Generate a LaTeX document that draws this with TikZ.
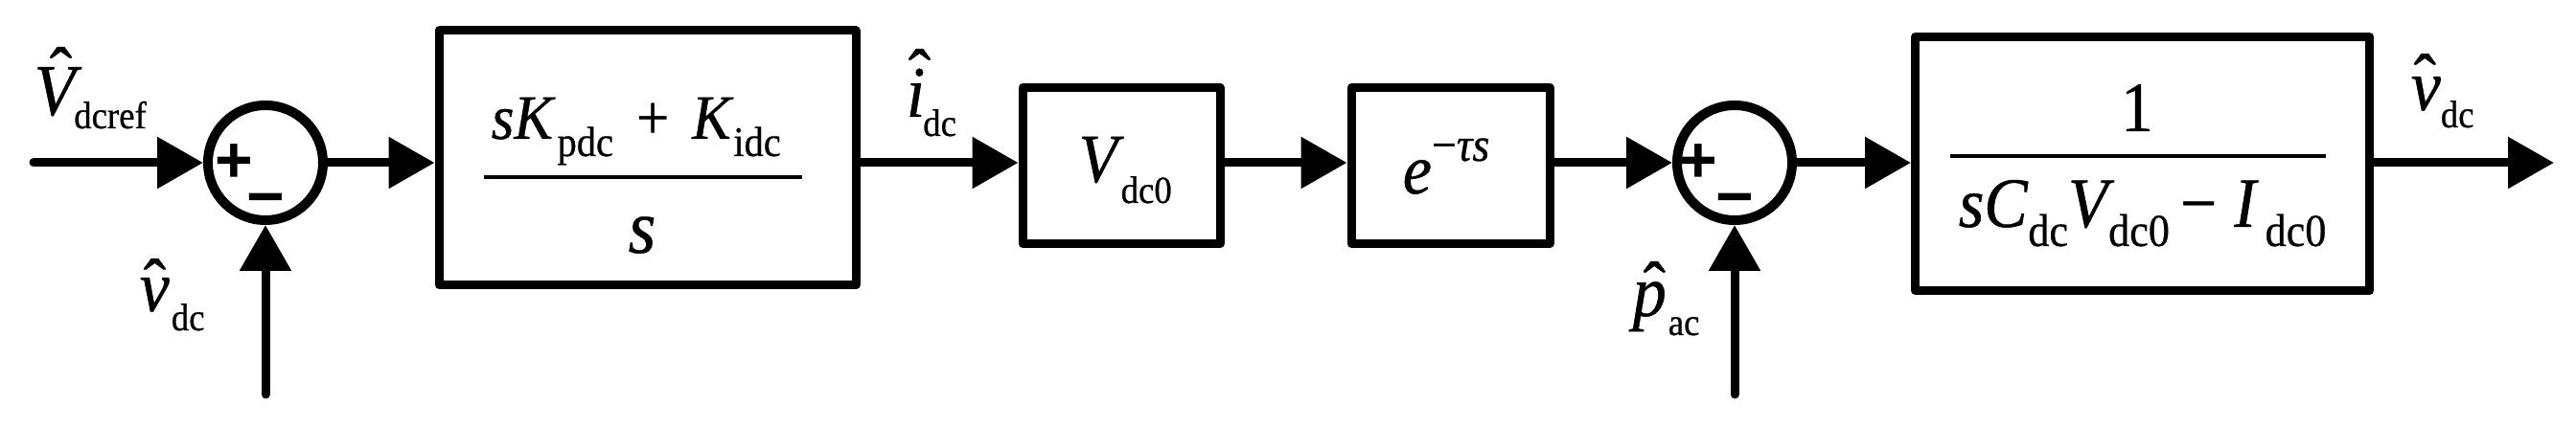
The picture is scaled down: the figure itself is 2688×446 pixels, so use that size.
\documentclass[tikz,border=0pt]{standalone}
\usepackage{fontspec}
\setmainfont{Liberation Serif}[FakeStretch=0.92,FakeBold=0.6]
\newfontfamily\signfont{Liberation Sans}
\usetikzlibrary{arrows.meta}
\newcommand\fs[1]{\fontsize{#1}{#1}\selectfont}
% \sbx{drop}{kern}{size}{text}
\newcommand\sbx[4]{\kern#2\raisebox{-#1}{\fs{#3}#4}}
% \hx{raise}{shift}{letter}
\newcommand\hx[3]{\makebox[0pt][l]{\hspace*{#2}\raisebox{#1}{ˆ}}\textit{#3}}
\begin{document}
\begin{tikzpicture}[x=0.25pt,y=-0.25pt,
  txt/.style={inner sep=0pt, font=\fs{19pt}},
  lbl/.style={txt, anchor=base west},
  blk/.style={draw, line width=2.25pt, line join=round, inner sep=0pt},
  sumc/.style={draw, circle, line width=2.5pt, minimum size=30pt, inner sep=0pt},
  sgn/.style={inner sep=0pt, anchor=base, font=\signfont\bfseries\fs{17pt}},
  flow/.style={line width=2.25pt, -{Triangle[length=12pt,width=13pt]}},
  bar/.style={line width=1.1pt}]
\useasboundingbox (0,0) rectangle (2688,446);
% summing junctions
\node[sumc] (sum1) at (277,170) {};
\node[sumc] (sum2) at (1810,170) {};
\node[sgn] (s1p) at (244,191) {+};
\node[sgn] (s1m) at (277,229) {−};
\node[sgn] (s2p) at (1772,191) {+};
\node[sgn] (s2m) at (1810,229) {−};
% blocks
\node[blk, minimum width=108.75pt, minimum height=66.5pt] (box1) at (675.5,165) {};
\node[blk, minimum width=51.5pt, minimum height=40.75pt] (box2) at (1170,173) {};
\node[blk, minimum width=51.75pt, minimum height=40.75pt] (box3) at (1513.5,173) {};
\node[blk, minimum width=118.5pt, minimum height=66.25pt] (box4) at (2235.5,171) {};
% block contents
\node[lbl, font=\fs{16.5pt}] (b1n) at (512,145) {\textit{sK}\sbx{4.5pt}{0.5pt}{11pt}{pdc}\hspace{6pt}+\hspace{6pt}\textit{K}\sbx{4.5pt}{0pt}{11pt}{idc}};
\draw[bar] (505,185) -- (837,185);
\node[txt, anchor=base, font=\fs{20pt}] (b1d) at (670,264) {\textit{s}};
\node[lbl, font=\fs{18pt}] (b2t) at (1125,190) {\textit{V}\sbx{5.5pt}{-0.75pt}{10pt}{dc0}};
\node[lbl, font=\fs{18.5pt}] (b3t) at (1463,202) {\textit{e}\raisebox{8.5pt}{\fs{12.5pt}−\textit{τs}}};
\node[txt, anchor=base, font=\fs{18.5pt}] (b4n) at (2230,137) {1};
\draw[bar] (2035,163) -- (2427,163);
\node[lbl, font=\fs{18.5pt}] (b4d) at (2043,237) {\textit{sC}\sbx{5pt}{0pt}{12pt}{dc}\textit{V}\sbx{5pt}{-1.5pt}{12pt}{dc0}\hspace{2.75pt}−\hspace{4.5pt}\textit{I}\sbx{5pt}{1.75pt}{12pt}{dc0}};
% signal labels
\node[lbl] (lref) at (35,120) {\hx{4.5pt}{4pt}{V}\sbx{3.5pt}{-2pt}{10pt}{dcref}};
\node[lbl] (lvdc) at (145,325) {\hx{0.5pt}{1pt}{v}\sbx{5pt}{0.5pt}{10pt}{dc}};
\node[lbl] (lidc) at (945,122) {\hx{4.5pt}{0.5pt}{i}\sbx{5pt}{-0.5pt}{10pt}{dc}};
\node[lbl] (lpac) at (1703,330) {\hx{1pt}{2.7pt}{p}\sbx{5pt}{0.5pt}{10pt}{ac}};
\node[lbl] (lout) at (2515,115) {\hx{1.5pt}{0.7pt}{v}\sbx{4.5pt}{0pt}{10pt}{dc}};
% free ends
\coordinate (in) at (35,170);
\coordinate (fb1) at (277,412);
\coordinate (fb2) at (1810,412);
\coordinate (out) at (2665,170);
% connectors
\draw[flow, line cap=round] (in) -- (sum1);
\draw[flow, line cap=round] (fb1) -- (sum1);
\draw[flow] (sum1) -- (sum1 -| box1.west);
\draw[flow] (box1.east |- sum1) -- (box2.west |- sum1);
\draw[flow] (box2.east |- sum1) -- (box3.west |- sum1);
\draw[flow] (box3.east |- sum2) -- (sum2);
\draw[flow, line cap=round] (fb2) -- (sum2);
\draw[flow] (sum2) -- (sum2 -| box4.west);
\draw[flow] (box4.east |- sum2) -- (out);
\end{tikzpicture}
\end{document}
